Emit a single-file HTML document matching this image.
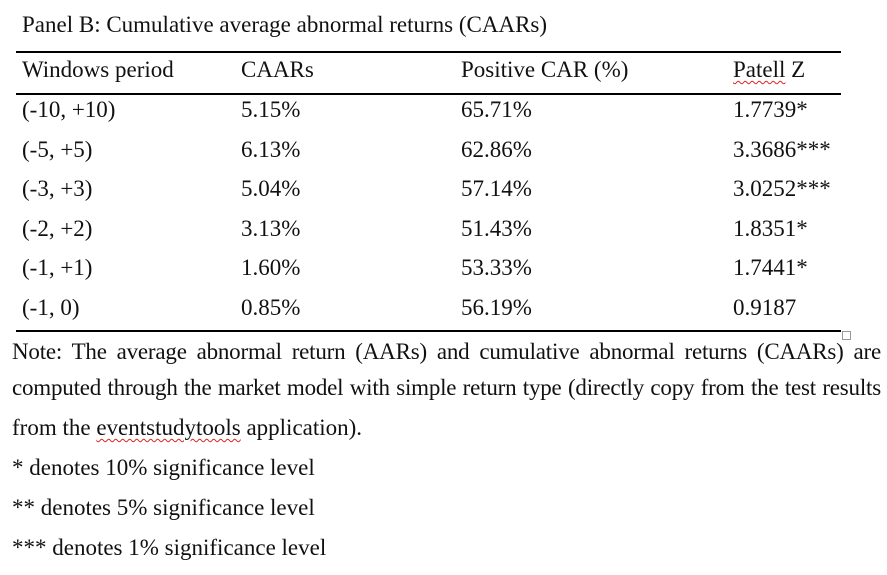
<!DOCTYPE html>
<html><head><meta charset="utf-8"><style>
body{margin:0;background:#fff;width:887px;height:575px;overflow:hidden;font-family:"Liberation Serif",serif;color:#111;font-size:23px;}
.t{position:absolute;white-space:nowrap;line-height:26px;}
.rule{position:absolute;left:16px;width:825px;background:#000;}
.j{position:absolute;left:12px;width:869px;text-align:justify;text-align-last:justify;line-height:26px;white-space:nowrap;letter-spacing:-0.2px;word-spacing:-1px;}
.sq{text-decoration:underline wavy #d22;text-decoration-thickness:1px;text-underline-offset:3px;}
</style></head><body>
<div class="t" style="left:22px;top:12px;">Panel B: Cumulative average abnormal returns (CAARs)</div>
<div class="rule" style="top:51px;height:2px;"></div>
<div class="t" style="left:22px;top:57px;">Windows period</div>
<div class="t" style="left:241px;top:57px;">CAARs</div>
<div class="t" style="left:461px;top:57px;">Positive CAR (%)</div>
<div class="t" style="left:733px;top:57px;"><span class="sq">Patell</span> Z</div>
<div class="rule" style="top:93px;height:2px;"></div>
<div id="rows"></div>
<div class="rule" style="top:330px;height:2px;"></div>
<div style="position:absolute;left:842px;top:331px;width:7px;height:7px;border:1px solid #999;"></div>
<div class="j" style="top:339px;">Note: The average abnormal return (AARs) and cumulative abnormal returns (CAARs) are</div>
<div class="j" style="top:375px;">computed through the market model with simple return type (directly copy from the test results</div>
<div class="t" style="left:12px;top:415px;">from the <span class="sq">eventstudytools</span> application).</div>
<div class="t" style="left:12px;top:455px;">* denotes 10% significance level</div>
<div class="t" style="left:12px;top:495px;">** denotes 5% significance level</div>
<div class="t" style="left:12px;top:535px;">*** denotes 1% significance level</div>
<script>
const windows=["(-10, +10)","(-5, +5)","(-3, +3)","(-2, +2)","(-1, +1)","(-1, 0)"];
const caars=["5.15%","6.13%","5.04%","3.13%","1.60%","0.85%"];
const positiveCar=["65.71%","62.86%","57.14%","51.43%","53.33%","56.19%"];
const patellZ=["1.7739*","3.3686***","3.0252***","1.8351*","1.7441*","0.9187"];
const cont=document.getElementById('rows');
const cols=[[windows,22,'window'],[caars,241,'caars'],[positiveCar,461,'positive-car'],[patellZ,733,'patell-z']];
windows.forEach((w,i)=>{
  cols.forEach(([arr,x,n])=>{
    const d=document.createElement('div');
    d.className='t';
    d.style.left=x+'px';
    d.style.top=(97+i*39.6)+'px';
    d.textContent=arr[i];
    
    
    cont.appendChild(d);
  });
});
</script>
</body></html>
